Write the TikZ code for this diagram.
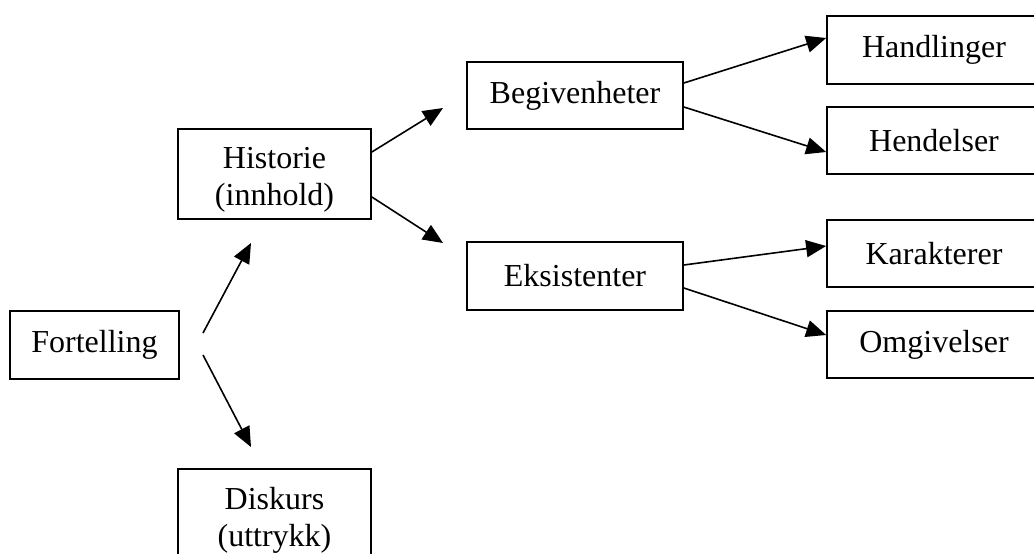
\documentclass[tikz,border=0pt]{standalone}
\usepackage{fontspec}
\setmainfont{Liberation Serif}
\usetikzlibrary{arrows.meta}
\begin{document}
\begin{tikzpicture}[x=1pt,y=-1pt,
  box/.style={draw=black, line width=1.7pt, rectangle, inner sep=0pt, align=center,
    font=\fontsize{32}{37}\selectfont},
  lbl/.style={inner sep=0pt, align=center, font=\fontsize{32}{37}\selectfont},
  arr/.style={line width=1.6pt, -{Triangle[length=20pt,width=17pt]}}]
\clip (0,0) rectangle (1034,554);
\fill[white] (0,0) rectangle (1034,554);
\node[box, minimum width=169pt, minimum height=68pt] (fort) at (94.5,345) {Fortelling};
\node[box, minimum width=193pt, minimum height=90pt] (hist) at (274.5,174) {};
\node[lbl] (histlbl) at ([yshift=-6pt]hist.center) {Historie\\(innhold)};
\node[box, minimum width=193pt, minimum height=90pt] (disk) at (274.5,514) {};
\node[lbl] (disklbl) at ([yshift=-6pt]disk.center) {Diskurs\\(uttrykk)};
\node[box, minimum width=216pt, minimum height=67pt] (begiv) at (575,95.5) {Begivenheter};
\node[box, minimum width=216pt, minimum height=68pt] (eksist) at (575,276) {Eksistenter};
\node[box, minimum width=214pt, minimum height=68pt] (handl) at (934,50) {Handlinger};
\node[box, minimum width=214pt, minimum height=67pt] (hend) at (934,140.5) {Hendelser};
\node[box, minimum width=214pt, minimum height=67pt] (kar) at (934,253.5) {Karakterer};
\node[box, minimum width=214pt, minimum height=67pt] (omg) at (934,344.5) {Omgivelser};
\coordinate (f1s) at (203,333);
\coordinate (f1t) at (251,243);
\coordinate (f2s) at (203,355);
\coordinate (f2t) at (251,447);
\coordinate (h1t) at (443,108);
\coordinate (h2t) at (443,243);
\draw[arr] (f1s) -- (f1t);
\draw[arr] (f2s) -- (f2t);
\draw[arr] ([yshift=22pt]hist.east) -- (h1t);
\draw[arr] ([yshift=-23pt]hist.east) -- (h2t);
\draw[arr] ([yshift=12.5pt]begiv.east) -- ([yshift=12pt]handl.west);
\draw[arr] ([yshift=-11.5pt]begiv.east) -- ([yshift=-11.5pt]hend.west);
\draw[arr] ([yshift=11pt]eksist.east) -- ([yshift=7.5pt]kar.west);
\draw[arr] ([yshift=-12pt]eksist.east) -- ([yshift=9.5pt]omg.west);
\end{tikzpicture}
\end{document}
